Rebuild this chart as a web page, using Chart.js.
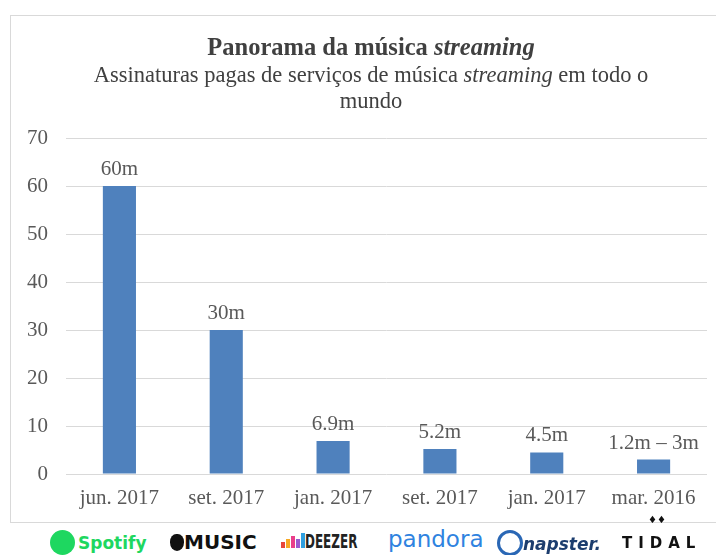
<!DOCTYPE html>
<html>
<head>
<meta charset="utf-8">
<script src="https://cdn.jsdelivr.net/npm/chart.js@4"></script>
<style>
  html,body{margin:0;padding:0;background:#fff;width:716px;height:555px;overflow:hidden;position:relative;}
  #box{position:absolute;left:10px;top:15px;width:720px;height:508px;border:1px solid #d9d9d9;box-sizing:border-box;}
  #chart{position:absolute;left:0;top:0;}
  .ttl{position:absolute;left:0;width:720px;text-align:center;font-family:"Liberation Serif",serif;color:#404040;white-space:nowrap;line-height:1;}
  #t1{top:19px;font-size:24.5px;font-weight:bold;}
  #t2{top:48px;font-size:22.5px;}
  #t3{top:74px;font-size:22.5px;}
  .logo{position:absolute;top:530px;white-space:nowrap;font-family:"DejaVu Sans",sans-serif;font-weight:bold;}
</style>
</head>
<body>
<div id="box">
  <canvas id="chart" width="720" height="508"></canvas>
  <div class="ttl" id="t1">Panorama da música <i>streaming</i></div>
  <div class="ttl" id="t2">Assinaturas pagas de serviços de música <i>streaming</i> em todo o</div>
  <div class="ttl" id="t3">mundo</div>
</div>

<!-- service logos row, rendered as text -->
<div class="logo" style="left:50px;color:#1ed760;font-size:17px;">
  <span style="display:inline-block;width:25px;height:25px;border-radius:50%;background:#1ed760;vertical-align:-6px;margin-right:3px;"></span>Spotify</div>
<div class="logo" style="left:170px;color:#111;font-size:20px;">
  <span style="display:inline-block;width:14px;height:17px;border-radius:45% 45% 50% 50%;background:#111;vertical-align:-2px;"></span>MUSIC</div>
<div class="logo" style="left:281px;color:#222;font-size:19px;">
  <span style="display:inline-block;width:4px;height:6px;background:#e8463a;"></span><span style="display:inline-block;width:4px;height:9px;background:#f7a823;margin-left:1px;"></span><span style="display:inline-block;width:4px;height:12px;background:#ea3f8a;margin-left:1px;"></span><span style="display:inline-block;width:4px;height:9px;background:#9b59d0;margin-left:1px;"></span><span style="display:inline-block;width:4px;height:15px;background:#2f9fe0;margin-left:1px;"></span><span style="display:inline-block;transform:scaleX(0.7);transform-origin:left;font-family:'Liberation Sans Narrow','DejaVu Sans Condensed',sans-serif;">DEEZER</span></div>
<div class="logo" style="left:388px;top:526px;color:#2f83e0;font-size:23px;font-weight:normal;font-family:'DejaVu Sans',sans-serif;">pandora</div>
<div class="logo" style="left:497px;color:#1c3d6e;font-size:17px;font-style:italic;">
  <span style="display:inline-block;width:20px;height:20px;border-radius:50%;border:3px solid #2a67b5;vertical-align:-6px;"></span>napster.</div>
<div class="logo" style="left:622px;top:534px;color:#111;font-size:15px;letter-spacing:6px;">TIDAL</div>
<div class="logo" style="left:648px;top:514px;color:#111;font-size:10px;">&#9830;&#9830;</div>

<script>
const categories = ["jun. 2017","set. 2017","jan. 2017","set. 2017","jan. 2017","mar. 2016"];
const subscribers = [60, 30, 6.9, 5.2, 4.5, 3];
const valueLabels = ["60m","30m","6.9m","5.2m","4.5m","1.2m \u2013 3m"];
const yTicks = [0,10,20,30,40,50,60,70];

const textGray = "#595959";
const serif = "'Liberation Serif', 'Times New Roman', serif";

// draws the "60m" style labels above each bar
const barLabels = {
  id:"barLabels",
  afterDatasetsDraw(chart){
    const ctx = chart.ctx;
    const meta = chart.getDatasetMeta(0);
    ctx.save();
    ctx.font = "21px " + serif;
    ctx.fillStyle = textGray;
    ctx.textAlign = "center";
    ctx.textBaseline = "bottom";
    meta.data.forEach((bar,i)=>{
      ctx.fillText(valueLabels[i], bar.x, bar.y - 6);
    });
    ctx.restore();
  }
};

new Chart(document.getElementById("chart"),{
  type:"bar",
  data:{
    labels:categories,
    datasets:[{
      data:subscribers,
      backgroundColor:"#4f81bd",
      borderWidth:0,
      categoryPercentage:1,
      barPercentage:0.31
    }]
  },
  options:{
    responsive:false,
    animation:false,
    devicePixelRatio:1,
    layout:{padding:{top:122,right:24,left:0,bottom:0}},
    plugins:{legend:{display:false},title:{display:false},tooltip:{enabled:false}},
    scales:{
      x:{
        grid:{display:false,drawTicks:false},
        border:{display:false},
        ticks:{color:textGray,font:{family:serif,size:21},padding:12,maxRotation:0,autoSkip:false},
        afterFit(s){ s.height = 50; }
      },
      y:{
        min:0,max:70,
        afterBuildTicks(s){ s.ticks = yTicks.map(v=>({value:v})); },
        grid:{color:"#d9d9d9",lineWidth:1,drawTicks:false},
        border:{display:false},
        ticks:{color:textGray,font:{family:serif,size:21},padding:18},
        afterFit(s){ s.width = 55; }
      }
    }
  },
  plugins:[barLabels]
});
</script>
</body>
</html>
